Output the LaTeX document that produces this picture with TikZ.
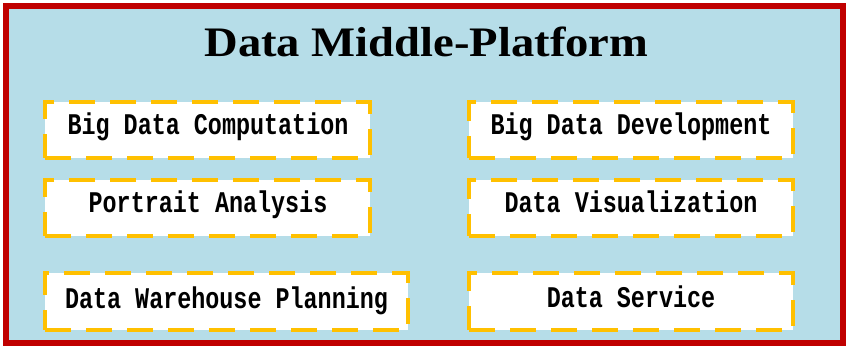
\documentclass[tikz,border=0pt]{standalone}
\usepackage{fontspec}
\newfontfamily\titlefont[FakeStretch=1.11]{Liberation Serif}
\newfontfamily\boxfont[FakeStretch=0.78]{Liberation Mono}
\definecolor{bgblue}{RGB}{182,221,232}
\definecolor{borderred}{RGB}{192,0,0}
\definecolor{dashyellow}{RGB}{255,192,0}
\tikzset{
  modbox/.style={draw=dashyellow, fill=white, line width=3.5pt,
    dash pattern=on 26pt off 15pt, inner sep=0pt},
  modtext/.style={font=\boxfont\bfseries\fontsize{30}{32}\selectfont, anchor=base, inner sep=0pt},
}
\begin{document}
\begin{tikzpicture}[x=1pt,y=-1pt]
\useasboundingbox (0,0) rectangle (846,346);
\fill[white] (0,0) rectangle (846,346);
\node[draw=borderred, fill=bgblue, line width=6pt, inner sep=0pt,
  minimum width=837pt, minimum height=337pt] (frame) at (424.5,174.5) {};
\node[font=\titlefont\bfseries\fontsize{42}{46}\selectfont, anchor=base, inner sep=0pt] (title) at (426.5,56) {Data Middle-Platform};
\node[modbox, minimum width=325pt, minimum height=56pt] (b1) at (207.5,130) {};
\node[modtext] (t1) at (208,134) {Big Data Computation};
\node[modbox, minimum width=325pt, minimum height=56pt] (b2) at (207.5,208) {};
\node[modtext] (t2) at (208,212) {Portrait Analysis};
\node[modbox, minimum width=363pt, minimum height=57pt] (b3) at (226.5,301.5) {};
\node[modtext] (t3) at (226.5,308) {Data Warehouse Planning};
\node[modbox, minimum width=324pt, minimum height=56pt] (b4) at (631,130) {};
\node[modtext] (t4) at (631,134) {Big Data Development};
\node[modbox, minimum width=324pt, minimum height=56pt] (b5) at (631,208) {};
\node[modtext] (t5) at (631,212) {Data Visualization};
\node[modbox, minimum width=324pt, minimum height=57pt] (b6) at (631,301.5) {};
\node[modtext] (t6) at (631,307) {Data Service};
\end{tikzpicture}
\end{document}
